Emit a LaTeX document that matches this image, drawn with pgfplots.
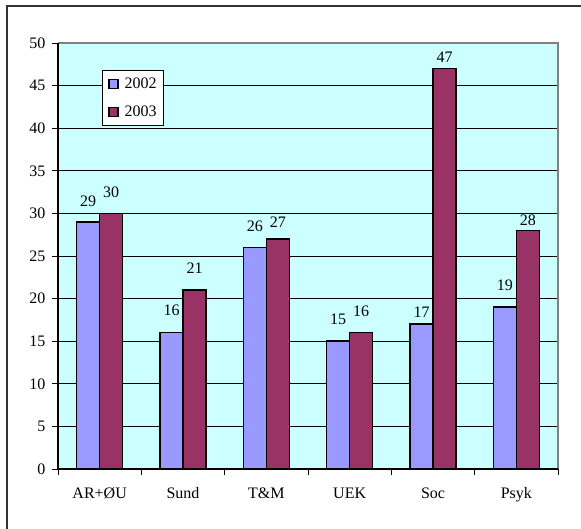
\documentclass[border=0pt]{standalone}
\usepackage{pgfplots}
\usepackage{pgfplotstable}
\pgfplotsset{compat=1.18}
\usepackage{fontspec}
\setmainfont{Liberation Serif}
\definecolor{cA}{HTML}{9999FF}
\definecolor{cB}{HTML}{993366}
\definecolor{bgc}{HTML}{CCFFFF}
\pgfplotstableread{
x y dy
0 29 9.5
1 16 10.5
2 26 9.5
3 15 10.5
4 17 0.5
5 19 10.5
}\dataA
\pgfplotstableread{
x y dy
0 30 9.5
1 21 10.5
2 27 5.5
3 16 9.5
4 47 0.5
5 28 -1.5
}\dataB
\begin{document}
\fontsize{16bp}{18bp}\selectfont
\begin{tikzpicture}[x=1bp,y=1bp]
\useasboundingbox (0,0) rectangle (581,529);
\draw[line width=1.5bp, black!80] (7,-10) -- (7,523) -- (600,523);
\begin{axis}[
  at={(58bp,60bp)}, anchor=south west,
  scale only axis, width=500bp, height=426bp,
  xmin=-0.5, xmax=5.5, ymin=0, ymax=50,
  ytick={0,5,...,50},
  xtick={0,...,5},
  xticklabels={AR+ØU,Sund,T\&M,UEK,Soc,Psyk},
  minor xtick={-0.5,0.5,...,5.5},
  major x tick style={draw=none},
  minor x tick style={black, line width=0.8bp},
  minor tick length=6bp,
  major tick length=6bp,
  tick align=outside,
  y tick style={black, line width=0.8bp},
  xtick pos=bottom, ytick pos=left,
  ymajorgrids, grid style={black, line width=0.8bp},
  axis line style={draw=none},
  axis background/.style={fill=bgc},
  ybar=0pt, bar width=23bp,
  tick label style={font=\fontsize{16bp}{18bp}\selectfont},
  xticklabel style={yshift=-7bp},
  yticklabel style={xshift=-1bp},
  /pgf/number format/assume math mode=true,
  nodes near coords,
  visualization depends on={\thisrow{dy} \as \dy},
  every node near coord/.append style={yshift=\dy bp, font=\fontsize{16bp}{18bp}\selectfont},
  legend style={at={(0.088,0.936)}, anchor=north west, draw=black, line width=0.6bp, fill=white,
    font=\fontsize{16bp}{18bp}\selectfont, row sep=11bp, inner xsep=5bp, inner ysep=5bp,
    cells={anchor=west}},
  legend image code/.code={\draw[#1, draw=black, line width=1.4bp] (0bp,-4.5bp) rectangle (9bp,4.5bp);
    \path (-1bp,0) (13bp,0);},
  clip=false,
]
\addplot[fill=cA, draw=black, line width=1.4bp] table[x=x, y=y] {\dataA};
\addplot[fill=cB, draw=black, line width=1.4bp] table[x=x, y=y] {\dataB};
\legend{2002,2003}
\draw[gray, line width=1.2bp] (rel axis cs:0,1) -- (rel axis cs:1,1) -- (rel axis cs:1,0);
\draw[black, line width=1.2bp] (rel axis cs:0,1) -- (rel axis cs:0,0) -- (rel axis cs:1,0);
\end{axis}
\end{tikzpicture}
\end{document}
